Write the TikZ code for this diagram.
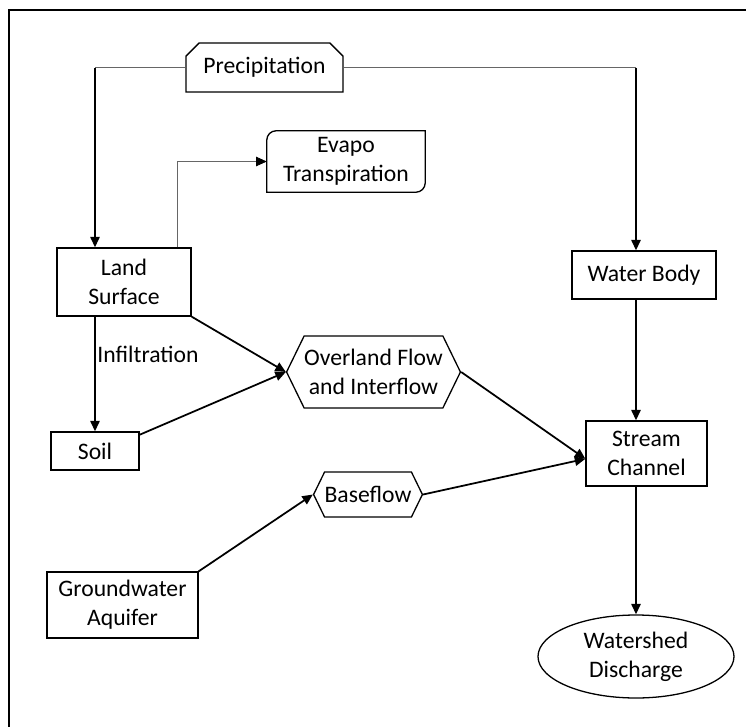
\documentclass[tikz,border=0pt]{standalone}
\usepackage{fontspec}
\setmainfont{Carlito}
\usetikzlibrary{arrows.meta,positioning,shapes.geometric,shapes.misc,shapes.symbols}

\begin{document}
\begin{tikzpicture}[
    x=0.03cm, y=-0.03cm,
    every node/.style={font=\fontsize{20.2}{25}\selectfont, align=center, inner sep=0pt},
    box/.style={rectangle, draw, line width=1.1pt, fill=white},
    hexbox/.style={signal, signal to=west and east, signal pointer angle=128, draw, line width=1.1pt, fill=white},
    snipbox/.style={chamfered rectangle, chamfered rectangle corners={north west, north east}, chamfered rectangle xsep=8pt, draw, line width=1.1pt, fill=white},
    endbox/.style={ellipse, draw, line width=1.1pt, fill=white},
    arrow/.style={-{Triangle[length=9pt,width=8pt]}, line width=1.5pt},
    thinarrow/.style={-{Triangle[length=9pt,width=8pt,color=black]}, line width=0.6pt, draw=black!60}
]
\useasboundingbox (0,0) rectangle (746,727);
\draw[line width=2.4pt] (9,10) rectangle (780,760);

% Sources
\node[snipbox, minimum width=157*0.03cm, minimum height=49*0.03cm] (precip) at (264.5,67.5) {Precipitation};
\node[minimum width=158*0.03cm, minimum height=61*0.03cm] (evapo) at (346,161.5) {Evapo\\Transpiration};
\draw[line width=1.1pt] (evapo.north east) -- ([xshift=8pt]evapo.north west)
    arc[start angle=90, end angle=180, radius=8pt] -- (evapo.south west)
    -- ([xshift=-8pt]evapo.south east) arc[start angle=270, end angle=360, radius=8pt] -- cycle;

% Land side
\node[box, minimum width=134*0.03cm, minimum height=68*0.03cm] (land) at (124,282) {Land\\Surface};
\node[box, minimum width=88*0.03cm, minimum height=38*0.03cm] (soil) at (95,451) {Soil};
\node[box, minimum width=151*0.03cm, minimum height=66*0.03cm] (gw) at (122.5,605) {Groundwater\\Aquifer};
\node (infil) at (148,354) {Infiltration};

% Flows
\node[hexbox, minimum width=153*0.03cm, minimum height=72*0.03cm] (over) at (373.5,372) {Overland Flow\\and Interflow};
\node[hexbox, minimum width=90*0.03cm, minimum height=45*0.03cm] (base) at (368,494.5) {Baseflow};

% Water side
\node[box, minimum width=144*0.03cm, minimum height=48*0.03cm] (water) at (644,275) {Water Body};
\node[box, minimum width=121*0.03cm, minimum height=65*0.03cm] (stream) at (646.5,453.5) {Stream\\Channel};
\node[endbox, minimum width=196*0.03cm, minimum height=83*0.03cm] (ws) at (636,656.5) {Watershed\\Discharge};

% Connections
\draw[line width=0.6pt, draw=black!60] (precip.west) -- (precip.west -| soil.north);
\draw[arrow] (precip.west -| soil.north) -- (land.north -| soil.north);
\draw[line width=0.6pt, draw=black!60] (precip.east) -- (precip.east -| ws.north);
\draw[arrow] (precip.east -| ws.north) -- (water.north -| ws.north);
\draw[thinarrow] ([xshift=-0.42cm]land.north east) |- (evapo.west);
\draw[arrow] (land.south -| soil.north) -- (soil.north);
\draw[arrow] (land.south east) -- (over.west);
\draw[arrow] (soil.20) -- (over.west);
\draw[arrow] (over.east) -- (stream.185);
\draw[arrow] (gw.north east) -- (base.west);
\draw[arrow] (base.east) -- (stream.185);
\draw[arrow] (water.south -| ws.north) -- (stream.north -| ws.north);
\draw[arrow] (stream.south -| ws.north) -- (ws.north);

\end{tikzpicture}
\end{document}
